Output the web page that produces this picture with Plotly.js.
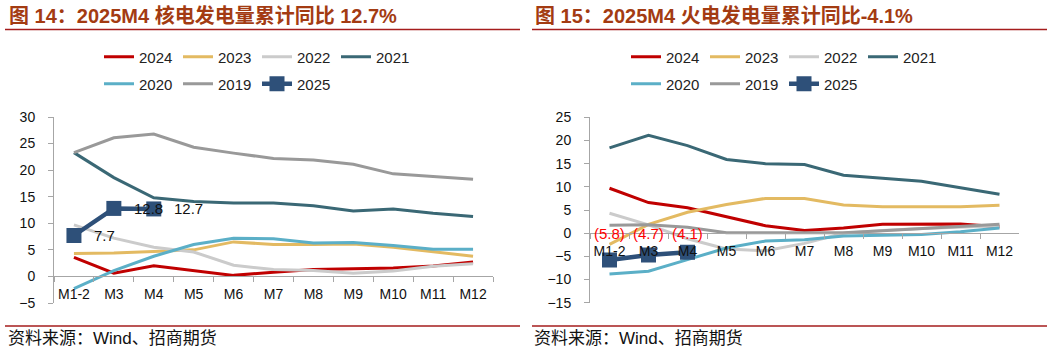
<!DOCTYPE html>
<html>
<head>
<meta charset="utf-8">
<script src="https://cdn.plot.ly/plotly-3.0.1.min.js"></script>
<style>
  html, body { margin: 0; padding: 0; background: #fff; }
  #chart { width: 1060px; height: 353px; }
</style>
</head>
<body>
<div id="chart"></div>
<script>
// ---------------- DATA ----------------
const categories = ['M1-2', 'M3', 'M4', 'M5', 'M6', 'M7', 'M8', 'M9', 'M10', 'M11', 'M12'];
const seriesNames = ['2024', '2023', '2022', '2021', '2020', '2019', '2025'];

// 图14 核电发电量累计同比 (%)
const nuclear2024 = [3.6, 0.6, 2.0, 1.1, 0.2, 0.8, 1.3, 1.45, 1.6, 1.95, 2.7];
const nuclear2023 = [4.3, 4.4, 4.7, 5.0, 6.5, 6.0, 6.0, 6.1, 5.5, 4.7, 3.8];
const nuclear2022 = [9.7, 7.2, 5.5, 4.6, 2.1, 1.3, 1.1, 0.6, 1.0, 1.9, 2.4];
const nuclear2021 = [23.3, 18.6, 14.8, 14.1, 13.8, 13.8, 13.3, 12.3, 12.7, 11.9, 11.3];
const nuclear2020 = [-2.3, 1.1, 3.8, 6.0, 7.2, 7.1, 6.3, 6.4, 5.8, 5.1, 5.1];
const nuclear2019 = [23.3, 26.1, 26.8, 24.3, 23.2, 22.2, 21.9, 21.1, 19.3, 18.8, 18.3];
const nuclear2025 = [7.7, 12.8, 12.7];

// 图15 火电发电量累计同比 (%)
const thermal2024 = [9.7, 6.6, 5.5, 3.6, 1.6, 0.6, 1.1, 1.9, 1.9, 2.0, 1.4];
const thermal2023 = [-2.4, 1.9, 4.5, 6.2, 7.5, 7.5, 6.1, 5.7, 5.7, 5.7, 6.0];
const thermal2022 = [4.3, 1.8, -1.2, -3.4, -3.8, -2.2, 0.0, 0.6, 1.0, 1.3, 1.6];
const thermal2021 = [18.4, 21.1, 18.9, 15.9, 15.0, 14.8, 12.5, 11.8, 11.2, 9.8, 8.4];
const thermal2020 = [-8.8, -8.2, -5.7, -3.2, -1.7, -1.4, -0.6, -0.4, -0.3, 0.3, 1.1];
const thermal2019 = [1.7, 1.8, 1.3, 0.1, 0.1, 0.1, 0.1, 0.5, 1.0, 1.5, 1.9];
const thermal2025 = [-5.8, -4.7, -4.1];

const leftTitle = '图 14：2025M4 核电发电量累计同比 12.7%';
const rightTitle = '图 15：2025M4 火电发电量累计同比-4.1%';
const sourceText = '资料来源：Wind、招商期货';

const nuclearSeries = [nuclear2024, nuclear2023, nuclear2022, nuclear2021, nuclear2020, nuclear2019, nuclear2025];
const thermalSeries = [thermal2024, thermal2023, thermal2022, thermal2021, thermal2020, thermal2019, thermal2025];

// ---------------- STYLE ----------------
const colors = {
  '2024': '#C00000', '2023': '#E3BA62', '2022': '#CBCBCB', '2021': '#3A6875',
  '2020': '#5BAFC7', '2019': '#999999', '2025': '#2E5079'
};
const W = 1060, H = 353;
const px = v => v / W;
const py = v => 1 - v / H;
const latin = 'Liberation Sans, Arial, Noto Sans CJK SC, sans-serif';
const cjk = 'Liberation Sans, Noto Sans CJK SC, sans-serif';

const yRange1 = [-5, 30], yRange2 = [-15, 25];
const yDom1 = [py(303), py(117)], yDom2 = [py(302.7), py(117.3)];
const xDom1 = [px(54), px(493)], xDom2 = [px(590), px(1019)];
const zeroPos = (dom, r) => dom[0] + (0 - r[0]) / (r[1] - r[0]) * (dom[1] - dom[0]);

function buildTraces(seriesList, xa, ya, legRow1, legRow2) {
  return seriesNames.map((name, i) => {
    const is25 = name === '2025';
    const t = {
      type: 'scatter',
      mode: is25 ? 'lines+markers' : 'lines',
      name: name,
      x: categories.slice(0, seriesList[i].length),
      y: seriesList[i],
      xaxis: xa, yaxis: ya,
      legend: i < 4 ? legRow1 : legRow2,
      line: { color: colors[name], width: is25 ? 4.5 : 3 },
      hoverinfo: 'skip'
    };
    if (is25) t.marker = { symbol: 'square', size: 15, color: colors[name] };
    return t;
  });
}

const traces = [
  ...buildTraces(nuclearSeries, 'x', 'y', 'legend', 'legend2'),
  ...buildTraces(thermalSeries, 'x2', 'y2', 'legend3', 'legend4')
];

function yAxis(dom, r, anchor) {
  return {
    domain: dom, range: r, dtick: 5, tick0: 0, anchor: anchor,
    showgrid: false, zeroline: false,
    showline: true, linecolor: '#A6A6A6', linewidth: 1,
    ticks: 'outside', ticklen: 5, tickcolor: '#A6A6A6',
    tickfont: { family: latin, size: 14, color: '#111' },
    ticklabelstandoff: 10,
    fixedrange: true
  };
}
function xAxis(dom, yDom, yR) {
  return {
    domain: dom, type: 'category', range: [-0.5, categories.length - 0.5],
    anchor: 'free', position: zeroPos(yDom, yR),
    showgrid: false, zeroline: false,
    showline: true, linecolor: '#A6A6A6', linewidth: 1,
    ticks: 'outside', ticklen: 5, tickcolor: '#A6A6A6', tickson: 'boundaries',
    tickangle: 0, automargin: false, ticklabelstandoff: 5,
    tickfont: { family: latin, size: 14, color: '#111' },
    fixedrange: true
  };
}

function legendAt(xPix, yPix) {
  return {
    orientation: 'h', x: px(xPix), y: py(yPix), xanchor: 'left', yanchor: 'middle',
    bgcolor: 'rgba(0,0,0,0)', borderwidth: 0,
    font: { family: latin, size: 15, color: '#222' },
    entrywidth: 34, entrywidthmode: 'pixels', traceorder: 'normal'
  };
}

// annotations: titles, source, data labels
const annotations = [
  { text: leftTitle, x: px(7), y: py(15.5), xref: 'paper', yref: 'paper', xanchor: 'left', yanchor: 'middle', showarrow: false,
    font: { family: cjk, size: 20, color: '#A33B12', weight: 'bold' } },
  { text: rightTitle, x: px(533), y: py(15.5), xref: 'paper', yref: 'paper', xanchor: 'left', yanchor: 'middle', showarrow: false,
    font: { family: cjk, size: 20, color: '#A33B12', weight: 'bold' } },
  { text: sourceText, x: px(6), y: py(338), xref: 'paper', yref: 'paper', xanchor: 'left', yanchor: 'middle', showarrow: false,
    font: { family: cjk, size: 17, color: '#111' } },
  { text: sourceText, x: px(532), y: py(338), xref: 'paper', yref: 'paper', xanchor: 'left', yanchor: 'middle', showarrow: false,
    font: { family: cjk, size: 17, color: '#111' } }
];
nuclear2025.forEach((v, i) => annotations.push({
  text: v.toFixed(1), x: categories[i], y: v, xref: 'x', yref: 'y', xanchor: 'left', yanchor: 'middle',
  xshift: 18, showarrow: false, font: { family: latin, size: 15, color: '#111' }
}));
thermal2025.forEach((v, i) => annotations.push({
  text: v < 0 ? '(' + Math.abs(v).toFixed(1) + ')' : v.toFixed(1), x: categories[i], y: 0, xref: 'x2', yref: 'y2',
  xanchor: 'center', yanchor: 'middle', yshift: 0, showarrow: false, font: { family: latin, size: 15, color: '#FF0000' }
}));

const redLine = (x0, x1, y) => ({ type: 'line', xref: 'paper', yref: 'paper', x0: px(x0), x1: px(x1), y0: py(y), y1: py(y),
  line: { color: '#A51C1C', width: 1.5 } });

const layout = {
  width: W, height: H, autosize: false,
  margin: { l: 0, r: 0, t: 0, b: 0, pad: 0 },
  paper_bgcolor: '#fff', plot_bgcolor: 'rgba(0,0,0,0)',
  hovermode: false,
  xaxis: xAxis(xDom1, yDom1, yRange1),
  yaxis: yAxis(yDom1, yRange1, 'x'),
  xaxis2: xAxis(xDom2, yDom2, yRange2),
  yaxis2: yAxis(yDom2, yRange2, 'x2'),
  legend: legendAt(99, 57),
  legend2: legendAt(99, 84),
  legend3: legendAt(626, 57),
  legend4: legendAt(626, 84),
  annotations: annotations,
  shapes: [redLine(5, 520, 29.5), redLine(532, 1047, 29.5), redLine(5, 520, 326), redLine(532, 1047, 326)]
};

Plotly.newPlot('chart', traces, layout, { staticPlot: true, displayModeBar: false });
</script>
</body>
</html>
